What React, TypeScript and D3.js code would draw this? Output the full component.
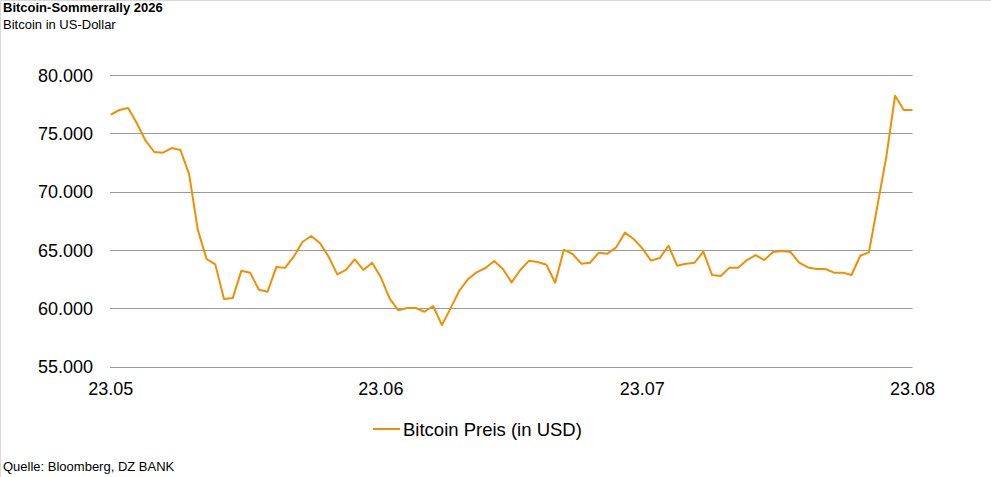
import { useEffect, useRef } from "react";
import * as d3 from "d3";

// Daily closing prices, 23.05 – 23.08 (USD)
const prices: number[] = [
  76600, 77000, 77170, 75860, 74370, 73400, 73340, 73740, 73570, 71510,
  66710, 64230, 63770, 60800, 60880, 63230, 63060, 61600, 61430, 63540,
  63470, 64430, 65690, 66200, 65600, 64430, 62910, 63290, 64200, 63290,
  63910, 62660, 60860, 59830, 60030, 60030, 59710, 60200, 58570, 60000,
  61510, 62510, 63090, 63460, 64060, 63370, 62230, 63290, 64090, 63970,
  63740, 62200, 65030, 64660, 63830, 63910, 64770, 64690, 65230, 66490,
  65940, 65140, 64090, 64310, 65370, 63660, 63830, 63910, 64860, 62860,
  62770, 63490, 63490, 64140, 64570, 64140, 64830, 64910, 64830, 63910,
  63510, 63370, 63370, 63060, 63060, 62860, 64510, 64800, 68900, 73000,
  78230, 77000, 77000,
];

const xTickDays = [0, 31, 61, 92];
const xTickLabels = ["23.05", "23.06", "23.07", "23.08"];
const yTicks = [55000, 60000, 65000, 70000, 75000, 80000];

const WIDTH = 991;
const HEIGHT = 477;
const ORANGE = "#f18f00";
const FONT = "'Liberation Sans', Arial, sans-serif";

const de = d3.formatLocale({
  decimal: ",",
  thousands: ".",
  grouping: [3],
  currency: ["", " €"],
});
const fmt = de.format(",");

const App = () => {
  const svgRef = useRef<SVGSVGElement | null>(null);

  useEffect(() => {
    if (!svgRef.current) return;
    const svg = d3.select(svgRef.current);
    svg.selectAll("*").remove();

    const x = d3
      .scaleLinear()
      .domain([0, prices.length - 1])
      .range([110.7, 912.5]);
    const y = d3.scaleLinear().domain([55000, 80000]).range([366.7, 75]);

    // frame edges
    svg
      .append("path")
      .attr("d", `M0.5,${HEIGHT} V0.5 H${WIDTH}`)
      .attr("fill", "none")
      .attr("stroke", "#d9d9d9");

    // titles
    svg
      .append("text")
      .attr("x", 3)
      .attr("y", 12)
      .attr("font-size", 13)
      .attr("font-weight", "bold")
      .text("Bitcoin-Sommerrally 2026");
    svg
      .append("text")
      .attr("x", 3)
      .attr("y", 29)
      .attr("font-size", 13)
      .text("Bitcoin in US-Dollar");

    // gridlines + y labels
    const [x0, x1] = x.range();
    svg
      .append("g")
      .selectAll("line")
      .data(yTicks)
      .join("line")
      .attr("x1", x0 - 0.7)
      .attr("x2", x1)
      .attr("y1", (d) => Math.round(y(d)) + 0.5)
      .attr("y2", (d) => Math.round(y(d)) + 0.5)
      .attr("stroke", "#999")
      .attr("stroke-width", 1);

    svg
      .append("g")
      .selectAll("text")
      .data(yTicks)
      .join("text")
      .attr("x", 93)
      .attr("y", (d) => y(d) + 6.5)
      .attr("text-anchor", "end")
      .attr("font-size", 18)
      .text((d) => fmt(d));

    // x labels
    svg
      .append("g")
      .selectAll("text")
      .data(xTickDays)
      .join("text")
      .attr("x", (d) => x(d))
      .attr("y", 395)
      .attr("text-anchor", "middle")
      .attr("font-size", 18)
      .text((_, i) => xTickLabels[i]);

    // price line
    const line = d3
      .line<number>()
      .x((_, i) => x(i))
      .y((d) => y(d));
    svg
      .append("path")
      .datum(prices)
      .attr("d", line)
      .attr("fill", "none")
      .attr("stroke", ORANGE)
      .attr("stroke-width", 2)
      .attr("stroke-linejoin", "round");

    // legend
    svg
      .append("line")
      .attr("x1", 373)
      .attr("x2", 400)
      .attr("y1", 429)
      .attr("y2", 429)
      .attr("stroke", ORANGE)
      .attr("stroke-width", 2);
    svg
      .append("text")
      .attr("x", 403)
      .attr("y", 435.5)
      .attr("font-size", 18.5)
      .text("Bitcoin Preis (in USD)");

    // source
    svg
      .append("text")
      .attr("x", 3)
      .attr("y", 471)
      .attr("font-size", 13)
      .text("Quelle: Bloomberg, DZ BANK");
  }, []);

  return (
    <svg
      ref={svgRef}
      width={WIDTH}
      height={HEIGHT}
      viewBox={`0 0 ${WIDTH} ${HEIGHT}`}
      style={{
        position: "absolute",
        left: 0,
        top: 0,
        background: "#fff",
        fontFamily: FONT,
        fill: "#000",
      }}
    />
  );
};

export default App;
